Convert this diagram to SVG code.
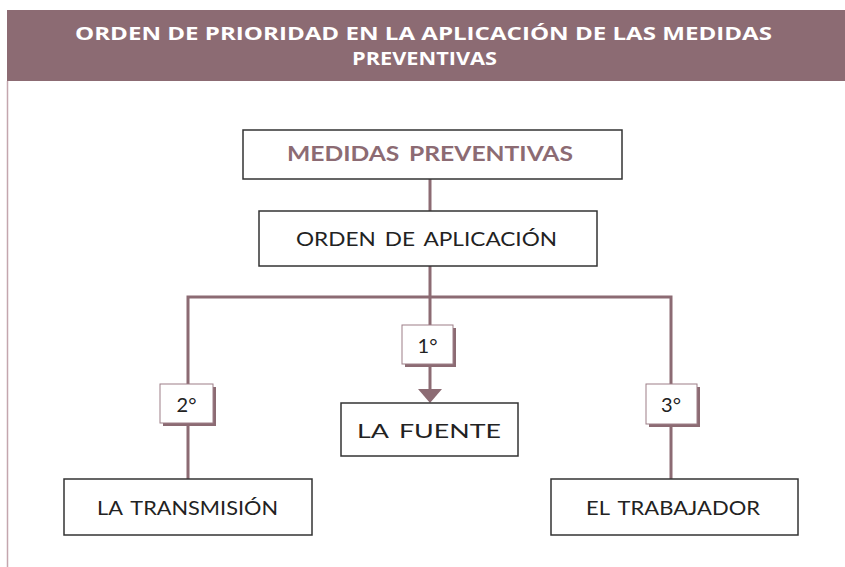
<svg xmlns="http://www.w3.org/2000/svg" width="845" height="567" viewBox="0 0 845 567">
<style>
.hdr{font-family:"Open Sans","Liberation Sans",sans-serif;font-weight:bold;font-size:17px;fill:#ffffff;text-anchor:middle}
.box{fill:#ffffff;stroke:#333333;stroke-width:1.5}
.txt{font-family:"Lato","Liberation Sans",sans-serif;font-size:20px;fill:#222222;text-anchor:middle;word-spacing:3px}
.ttl{font-family:"Lato","Liberation Sans",sans-serif;font-size:20px;font-weight:bold;fill:#8c6b73;text-anchor:middle;word-spacing:3px}
.con{stroke:#8c6b73;stroke-width:3;fill:none}
.shd{fill:#8c6b73}
.lbl{fill:#ffffff;stroke:#9d7f87;stroke-width:1}
</style>
<rect width="845" height="567" fill="#ffffff"/>
<g id="header">
<rect x="7" y="10" width="838" height="71" fill="#8c6b73"/>
<line x1="7.5" y1="81" x2="7.5" y2="567" stroke="#c4a6ae" stroke-width="1.5"/>
<text class="hdr" x="423.5" y="40" textLength="697" lengthAdjust="spacingAndGlyphs">ORDEN DE PRIORIDAD EN LA APLICACIÓN DE LAS MEDIDAS</text>
<text class="hdr" x="424.5" y="65" textLength="145" lengthAdjust="spacingAndGlyphs">PREVENTIVAS</text>
</g>
<g id="connectors">
<line class="con" x1="430" y1="179" x2="430" y2="211"/>
<line class="con" x1="430" y1="266" x2="430" y2="325"/>
<polyline class="con" points="188,479 188,297 671,297 671,479"/>
<line class="con" x1="430" y1="364" x2="430" y2="392"/>
<polygon points="418,389 442,389 430,403" fill="#8c6b73"/>
</g>
<g id="medidas">
<rect class="box" x="243" y="130" width="379" height="49"/>
<text class="ttl" x="430" y="161" textLength="286" lengthAdjust="spacingAndGlyphs">MEDIDAS PREVENTIVAS</text>
</g>
<g id="orden">
<rect class="box" x="259" y="211" width="338" height="55"/>
<text class="txt" x="426.5" y="246" textLength="261" lengthAdjust="spacingAndGlyphs">ORDEN DE APLICACIÓN</text>
</g>
<g id="p1">
<rect class="shd" x="405" y="328" width="51" height="39"/>
<rect class="lbl" x="402" y="325" width="51" height="39"/>
<text class="txt" x="427.5" y="353">1°</text>
</g>
<g id="p2">
<rect class="shd" x="163" y="387" width="53" height="39"/>
<rect class="lbl" x="160" y="384" width="53" height="39"/>
<text class="txt" x="186.5" y="412">2°</text>
</g>
<g id="p3">
<rect class="shd" x="649" y="387" width="51" height="40"/>
<rect class="lbl" x="646" y="384" width="51" height="40"/>
<text class="txt" x="671" y="412">3°</text>
</g>
<g id="fuente">
<rect class="box" x="341" y="403" width="177" height="53"/>
<text class="txt" x="429" y="438" textLength="144" lengthAdjust="spacingAndGlyphs">LA FUENTE</text>
</g>
<g id="transmision">
<rect class="box" x="64" y="479" width="248" height="56"/>
<text class="txt" x="187.5" y="515" textLength="181" lengthAdjust="spacingAndGlyphs">LA TRANSMISIÓN</text>
</g>
<g id="trabajador">
<rect class="box" x="551" y="479" width="247" height="56"/>
<text class="txt" x="673" y="515" textLength="174" lengthAdjust="spacingAndGlyphs">EL TRABAJADOR</text>
</g>
</svg>
